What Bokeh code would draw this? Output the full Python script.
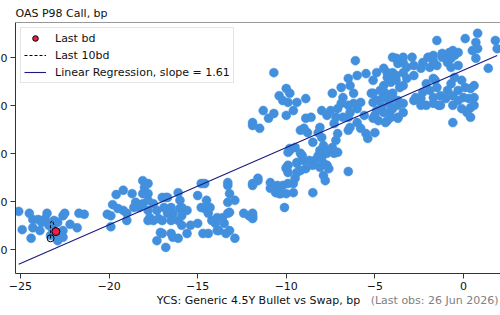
import numpy as np
from bokeh.plotting import figure
from bokeh.models import Range1d, FixedTicker, Span, Label, Legend, LegendItem
from bokeh.embed import file_html
from bokeh.resources import INLINE

# ---------------- data ----------------
hist_x = [
    # left cluster
    -25.1, -24.5, -24.9, -24.3, -24.4, -24.3, -24.0, -23.9, -23.8, -23.6, -23.4, -23.3, -23.1,
    -23.0, -22.9, -22.6, -22.5, -22.6, -22.6, -22.2, -21.8, -21.7, -21.4, -23.5, -23.2, -22.9,
    # -20 .. -11 cluster
    -20.1, -19.9, -19.8, -19.6, -19.2, -19.5, -19.2, -19.0, -19.9, -19.0, -18.7, -18.5, -18.6,
    -18.3, -18.1, -17.8, -18.0, -18.1, -17.8, -17.8, -18.1, -17.8, -17.7, -17.5, -17.3, -17.2,
    -17.0, -16.8, -16.9, -16.7, -16.5, -16.4, -16.1, -16.0, -16.0, -15.9, -16.1, -16.5, -17.0,
    -17.5, -17.8, -17.1, -17.3, -16.5, -16.4, -16.1, -15.9, -15.6, -15.4, -15.0, -14.7, -14.6,
    -15.0, -14.5, -14.8, -14.6, -14.3, -14.4, -14.2, -14.0, -13.9, -13.6, -13.5, -13.3, -13.3,
    -13.3, -13.2, -13.2, -13.2, -13.4, -12.9, -12.4, -11.9, -11.9, -11.6, -16.8, -16.7, -15.9,
    -15.6, -14.8, -13.9, -14.4, -13.8, -12.9, -13.3, -12.1, -17.0, -11.9, -11.9,
    # -12 .. -5 cluster
    -9.9, -9.1, -10.0, -9.9, -9.4, -9.2, -8.7, -8.5, -8.2, -8.0, -7.9, -7.6, -7.7, -7.3, -7.1,
    -6.5, -7.9, -7.8, -8.5, -9.6, -9.5, -9.9, -10.2, -10.5, -10.9, -10.9, -10.6, -10.3, -10.0,
    -9.6, -10.1, -11.6, -11.9, -11.9, -10.7, -10.4, -10.0, -9.8, -10.2, -9.9, -9.4, -9.6, -8.9,
    -10.0, -11.3, -11.0, -10.7, -11.9, -11.5, -11.9, -8.9, -8.6, -9.0, -8.8, -8.2, -8.5, -8.1,
    -8.0, -8.0, -7.5, -7.7, -7.4, -6.9, -6.5, -6.0, -6.1, -5.5, -6.4, -6.2, -6.8, -6.5, -6.9,
    -7.1, -7.2, -7.3, -6.8, -6.5, -6.4, -6.0, -5.8, -6.2, -5.6, -6.0, -5.8, -5.5, -5.4, -5.0,
    -6.4, -6.5, -7.1, -7.2, -7.4, -7.7, -7.9, -8.1, -8.2, -8.4, -9.0, -9.2, -9.4, -9.8, -9.9,
    -10.0, -9.4, -8.9, -8.1, -7.7, -10.4, -9.2, -9.5, -9.8, -5.1, -4.9, -4.5, -4.3, -4.0, -3.7,
    -4.1, -3.8, -4.4, -4.0, -3.7, -4.9, -4.6, -4.1, -4.3, -3.7, -5.2, -5.0,
    # -5 .. 2 cluster
    -1.5, 0.1, 0.8, 0.7, 0.5, 0.8, 1.8, 1.9, 0.7, -0.6, -0.8, -1.0, -1.2, -0.7, -0.9, -0.5, 1.4,
    -1.7, -2.0, -1.7, -1.9, -1.5, -2.3, -2.4, -2.9, -3.4, -3.4, -3.8, -3.7, -3.2, -2.8, -2.8,
    -3.4, -3.2, -4.0, -4.3, -4.2, -3.8, -3.6, -3.4, -4.5, -4.7, -5.1, -4.3, -4.0, -4.2, -4.6,
    -5.1, -4.9, -4.5, -4.0, -3.7, -3.4, -4.1, -3.7, -3.4, -4.4, -4.8, -5.1, -2.7, -2.4, -2.3,
    -2.1, -1.7, -1.6, -1.5, -1.3, -1.7, -1.7, -2.1, -2.4, -2.8, -1.9, -1.3, -1.0, -0.9, -0.7,
    -0.5, -0.3, -0.1, 0.1, -0.3, -0.6, -0.6, -0.3, 0.0, 0.3, 0.4, 0.6, 0.4, 0.6, -0.1, 0.2, 0.6,
    -1.4, -0.6, 0.4, -1.2, -0.3, -0.7,
]
hist_y = [
    # left cluster
    18.0, 17.6, 14.2, 14.6, 12.4, 16.3, 16.3, 14.0, 15.7, 16.5, 15.1, 13.0, 16.1,
    13.4, 15.7, 17.1, 17.6, 14.0, 12.6, 15.3, 14.6, 17.6, 17.4, 17.6, 14.4, 11.9,
    # -20 .. -11 cluster
    17.4, 17.1, 19.4, 21.5, 22.4, 18.6, 18.2, 17.6, 14.8, 16.1, 21.7, 19.9, 18.8,
    18.8, 24.4, 23.8, 23.0, 21.7, 21.7, 20.3, 19.6, 18.2, 16.7, 19.6, 18.2, 16.5,
    20.9, 20.9, 18.8, 17.6, 18.8, 17.6, 21.9, 20.3, 18.6, 17.1, 16.1, 16.1, 16.1,
    16.1, 16.1, 13.6, 11.9, 13.4, 12.6, 12.4, 15.1, 13.4, 15.1, 15.5, 13.4, 23.8,
    21.3, 20.3, 18.8, 18.6, 18.8, 17.6, 16.1, 15.5, 14.0, 16.7, 15.5, 23.4, 24.0,
    19.9, 21.7, 17.8, 14.0, 13.4, 12.4, 17.6, 17.1, 23.8, 24.9, 10.5, 20.9, 18.8,
    18.2, 23.8, 16.7, 13.4, 14.0, 20.3, 17.6, 17.1, 13.4, 16.5, 23.4,
    # -12 .. -5 cluster
    30.3, 29.6, 27.1, 26.1, 28.0, 26.5, 28.6, 27.6, 29.6, 29.2, 28.0, 26.9, 30.1, 30.1, 30.3,
    26.3, 25.5, 24.4, 21.9, 23.8, 24.9, 23.8, 23.4, 23.4, 24.0, 22.8, 21.9, 21.7, 21.7,
    21.9, 18.8, 24.4, 17.6, 16.7, 46.9, 42.1, 43.6, 42.6, 41.1, 40.7, 40.7, 39.0, 41.5,
    38.0, 39.0, 37.4, 38.4, 35.9, 35.3, 36.5, 37.4, 37.6, 35.3, 34.4, 34.4, 32.4, 35.5,
    33.4, 39.0, 39.0, 38.0, 42.6, 43.8, 45.7, 46.3, 49.4, 46.7, 44.2, 42.6, 41.7, 40.1, 40.5,
    39.4, 37.6, 36.3, 37.6, 37.6, 38.6, 39.4, 40.7, 40.5, 38.0, 36.5, 35.3, 34.2, 33.2, 34.4,
    35.5, 34.9, 34.2, 32.8, 31.3, 30.7, 31.7, 30.7, 29.2, 28.6, 28.6, 30.1, 28.2, 30.7, 27.6,
    26.9, 26.1, 26.9, 27.2, 27.6, 21.7, 34.9, 31.3, 31.1, 45.3, 46.9, 47.8, 45.9, 50.1, 49.4,
    44.9, 46.3, 42.6, 42.6, 41.1, 41.1, 39.7, 39.0, 36.9, 37.6, 42.6, 38.0,
    # -5 .. 2 cluster
    53.6, 54.0, 55.1, 53.2, 51.5, 51.9, 53.6, 51.9, 49.9, 51.5, 51.1, 50.1, 50.1, 49.9, 49.0, 50.5, 47.8,
    50.5, 50.1, 49.4, 48.0, 48.4, 49.0, 47.8, 50.1, 50.1, 49.0, 49.9, 48.8, 48.0, 48.4, 46.3,
    46.9, 45.7, 46.9, 46.9, 45.7, 45.3, 43.8, 44.2, 44.2, 43.2, 42.6, 42.1, 41.7, 40.5, 41.5,
    40.7, 39.0, 38.6, 39.4, 40.1, 40.5, 37.6, 37.4, 38.6, 36.5, 36.9, 37.4, 41.7, 41.5, 42.8,
    44.6, 45.7, 45.3, 43.8, 42.1, 41.7, 40.5, 40.1, 40.1, 41.1, 43.2, 40.1, 41.5, 43.2, 44.6,
    45.9, 48.4, 45.3, 43.8, 43.2, 42.1, 40.1, 41.1, 41.7, 41.5, 39.6, 41.7, 43.6, 44.2, 39.4, 38.6, 40.1,
    40.1, 36.5, 37.6, 50.9, 51.1, 48.0,
]

last_bd_x = [-23.0]
last_bd_y = [13.8]
last10_x = [-23.3, -23.3, -23.3, -23.2, -23.1, -22.9, -23.0]
last10_y = [12.4, 14.4, 15.7, 16.1, 15.1, 14.0, 13.8]

reg_slope = 1.61
reg_intercept = 47.4

x_ticks = [-25, -20, -15, -10, -5, 0]
x_tick_labels = ["\u221225", "\u221220", "\u221215", "\u221210", "\u22125", "0"]
y_ticks = [10, 20, 30, 40, 50]
y_tick_labels = ["10", "20", "30", "40", "50"]

title_text = "OAS P98 Call, bp"
x_label = "YCS: Generic 4.5Y Bullet vs Swap, bp"
note_text = "(Last obs: 26 Jun 2026)"

# ---------------- figure ----------------
FONT = "DejaVu Sans"
F = 380           # left border inside the figure (mostly off-screen)
ML = 15 - F       # figure's left margin on the page
X0, X1 = -25.28, 2.09
Y0, Y1 = 5.06, 57.35

p = figure(width=485 + F, height=313,
           x_range=Range1d(X0, X1), y_range=Range1d(Y0, Y1),
           output_backend="svg", toolbar_location=None,
           min_border_left=F, min_border_right=0,
           min_border_top=22, min_border_bottom=40,
           margin=(0, 0, 0, ML))

p.outline_line_color = None
p.xgrid.visible = False
p.ygrid.visible = False
p.background_fill_color = "white"
p.border_fill_color = "white"

p.title.text = title_text
p.title.text_font = FONT
p.title.text_font_size = "11px"
p.title.text_font_style = "normal"
p.title.text_color = "#111111"
p.title.align = "left"
p.title.standoff = 6

for ax in (p.xaxis[0], p.yaxis[0]):
    ax.axis_line_color = "#333333"
    ax.axis_line_width = 1
    ax.major_tick_line_color = "#333333"
    ax.major_tick_in = 0
    ax.major_tick_out = 5
    ax.minor_tick_line_color = None
    ax.major_label_text_font = FONT
    ax.major_label_text_font_size = "11px"
    ax.major_label_text_color = "#111111"
    ax.major_label_standoff = 3

p.xaxis.ticker = FixedTicker(ticks=x_ticks)
p.xaxis.major_label_overrides = dict(zip(x_ticks, x_tick_labels))
p.yaxis.ticker = FixedTicker(ticks=y_ticks)
p.yaxis.major_label_overrides = dict(zip(y_ticks, y_tick_labels))

# top spine
p.add_layout(Span(location=Y1, dimension="width", line_color="#333333", line_width=1))

# history scatter
p.scatter(hist_x, hist_y, size=9, fill_color="#4290dd", line_color="#4290dd", line_width=0.5)

# regression line
xr = np.array([min(hist_x), max(hist_x)])
yr = reg_intercept + reg_slope * xr
r_reg = p.line(xr, yr, line_color="#1a1a80", line_width=1.1)

# last 10 business days
r_10 = p.line(last10_x, last10_y, line_color="black", line_dash="3 2", line_width=1)
p.scatter(last10_x[:1], last10_y[:1], size=7, fill_color=None, line_color="black", line_width=1)

# last business day
r_last = p.scatter(last_bd_x, last_bd_y, size=8, fill_color="#ee1c47", line_color="black", line_width=1)

legend = Legend(items=[
    LegendItem(label="Last bd", renderers=[r_last]),
    LegendItem(label="Last 10bd", renderers=[r_10]),
    LegendItem(label="Linear Regression, slope = %.2f" % reg_slope, renderers=[r_reg]),
], location="top_left")
legend.label_text_font = FONT
legend.label_text_font_size = "11px"
legend.label_text_color = "#111111"
legend.border_line_color = "#cccccc"
legend.background_fill_alpha = 0.85
legend.padding = 3
legend.margin = 5
legend.spacing = 3
legend.glyph_height = 14
legend.label_height = 14
legend.glyph_width = 22
legend.label_standoff = 9
p.add_layout(legend)

# x-axis title and the grey note: kept in a side panel (not clipped to the frame),
# positioned with the plot's own scales on the row under the tick labels
row_y = Y0 - 27 * (Y1 - Y0) / 251.0
mid_x = X0 + (258 - 15) * (X1 - X0) / 485.0
right_x = X0 + (498 - 15) * (X1 - X0) / 485.0
xlab = Label(x=mid_x, y=row_y, text=x_label,
             text_align="center", text_baseline="middle", text_font=FONT,
             text_font_size="11px", text_color="#111111")
note = Label(x=right_x, y=row_y, text=note_text,
             text_align="right", text_baseline="middle", text_font=FONT,
             text_font_size="11px", text_color="#808080")
p.add_layout(xlab, "left")
p.add_layout(note, "left")

open("out.html", "w").write(file_html(p, INLINE))
